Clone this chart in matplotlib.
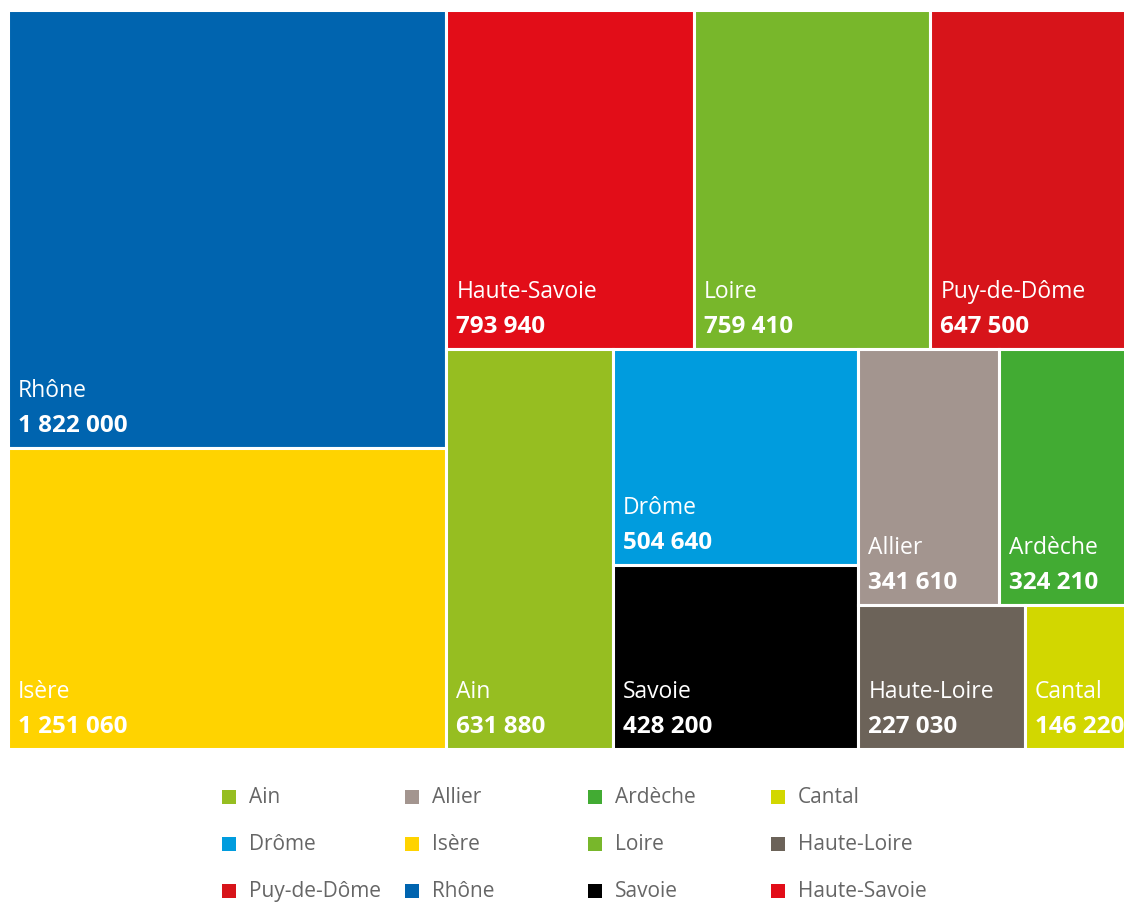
import matplotlib.pyplot as plt
from matplotlib.patches import Rectangle

# departement populations
names = ['Rhône', 'Isère', 'Haute-Savoie', 'Loire', 'Puy-de-Dôme', 'Ain',
         'Drôme', 'Savoie', 'Allier', 'Ardèche', 'Haute-Loire', 'Cantal']
values = [1822000, 1251060, 793940, 759410, 647500, 631880,
          504640, 428200, 341610, 324210, 227030, 146220]
colors = ['#0064AF', '#FFD300', '#E20D18', '#78B72B', '#D7141A', '#96BE21',
          '#009CDE', '#000000', '#A3958F', '#42AB33', '#6C6359', '#D2D700']

# strips of the treemap: orientation and members (sizes come from values)
strips = [('col', [0, 1]), ('row', [2, 3, 4]), ('col', [5]),
          ('col', [6, 7]), ('row', [8, 9]), ('row', [10, 11])]

legend_order = ['Ain', 'Allier', 'Ardèche', 'Cantal',
                'Drôme', 'Isère', 'Loire', 'Haute-Loire',
                'Puy-de-Dôme', 'Rhône', 'Savoie', 'Haute-Savoie']

FW, FH = 1124, 903
AW, AH = 1124, 739  # plot area in px (runs past the right edge)

plt.rcParams['font.family'] = ['Open Sans', 'DejaVu Sans']
fig = plt.figure(figsize=(FW / 100, FH / 100), dpi=100)
ax = fig.add_axes([8 / FW, 1 - (11 + AH) / FH, AW / FW, AH / FH])
ax.set_xlim(0, AW)
ax.set_ylim(AH, 0)
ax.axis('off')


def draw_cell(i, x0, y0, cw, ch):
    ax.add_patch(Rectangle((x0, y0), cw, ch, facecolor=colors[i],
                           edgecolor='white', linewidth=2.2))
    ax.text(x0 + 10, y0 + ch - 58, names[i], color='white', fontsize=16.5,
            va='center', ha='left')
    ax.text(x0 + 10, y0 + ch - 23, f'{values[i]:,}'.replace(',', ' '),
            color='white', fontsize=17.5, fontweight='bold',
            va='center', ha='left')


# lay out strips
x, y, w, h = 0.0, 0.0, float(AW), float(AH)
remaining = float(sum(values))
for orient, idx in strips:
    s = sum(values[i] for i in idx)
    if orient == 'col':
        sw = w * s / remaining
        cy = y
        for i in idx:
            ch = h * values[i] / s
            draw_cell(i, x, cy, sw, ch)
            cy += ch
        x += sw
        w -= sw
    else:
        sh = h * s / remaining
        cx = x
        for i in idx:
            cw = w * values[i] / s
            draw_cell(i, cx, y, cw, sh)
            cx += cw
        y += sh
        h -= sh
    remaining -= s

# legend, 4 columns in a fixed grid
for k, nm in enumerate(legend_order):
    r, c = divmod(k, 4)
    lx = 222 + c * 183
    ly = 798 + r * 47
    col = colors[names.index(nm)]
    fig.add_artist(Rectangle((lx / FW, 1 - (ly + 7) / FH), 14 / FW, 14 / FH,
                             facecolor=col, edgecolor='none',
                             transform=fig.transFigure))
    fig.text((lx + 27) / FW, 1 - ly / FH, nm, color='#666666', fontsize=15,
             va='center', ha='left')

fig.savefig('out.png', dpi=100)
